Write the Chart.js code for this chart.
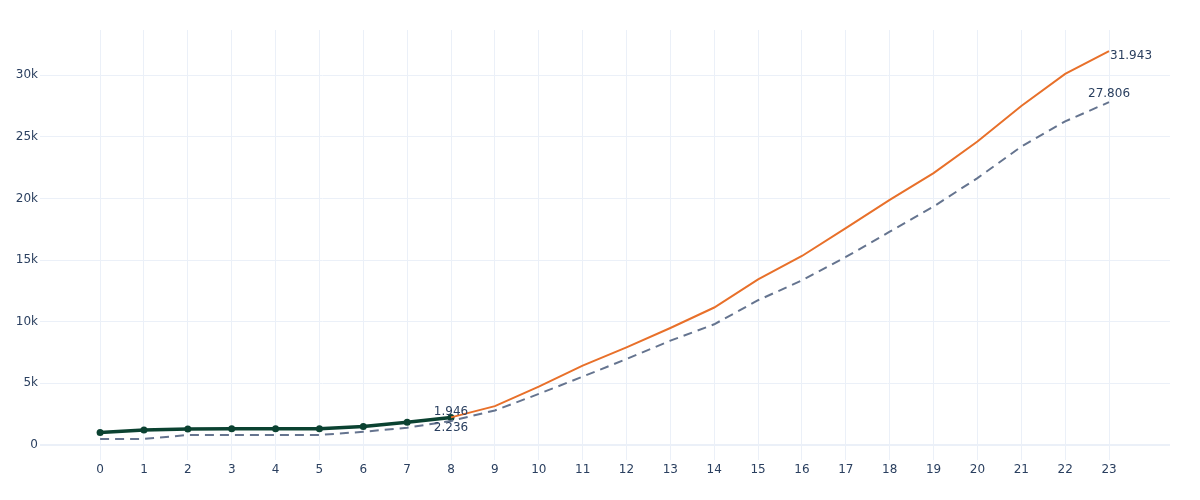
<!DOCTYPE html>
<html>
<head>
<meta charset="utf-8">
<script src="https://cdn.jsdelivr.net/npm/chart.js@4"></script>
<style>
  html, body { margin: 0; padding: 0; background: #fff; }
  #wrap { width: 1200px; height: 500px; }
</style>
</head>
<body>
<div id="wrap"><canvas id="chart"></canvas></div>
<script>
// periods on the x axis
const periods = [0, 1, 2, 3, 4, 5, 6, 7, 8, 9, 10, 11, 12, 13, 14, 15, 16, 17, 18, 19, 20, 21, 22, 23];

// observed values (periods 0..8)
const actual = [1020, 1220, 1300, 1310, 1310, 1320, 1500, 1840, 2236];

// projected values (periods 8..23)
const projected = [2236, 3150, 4730, 6430, 7920, 9490, 11150, 13430, 15330, 17590, 19880, 22050, 24620, 27500, 30100, 31943];

// baseline, dashed (periods 0..23)
const baseline = [490, 490, 810, 810, 810, 810, 1070, 1400, 1946, 2800, 4140, 5540, 6970, 8460, 9790, 11740, 13350, 15250, 17300, 19340, 21650, 24200, 26250, 27806];

const yTicks = [0, 5000, 10000, 15000, 20000, 25000, 30000];

const FONT = '"DejaVu Sans", Verdana, sans-serif';
const TEXT = '#2a3f5f';
const GRID = '#ebf0f8';

const toPoints = (vals, start) => vals.map((v, i) => ({ x: periods[start + i], y: v }));

// text labels next to selected points
const pointLabels = {
    id: 'pointLabels',
    afterDatasetsDraw(chart) {
        const ctx = chart.ctx;
        ctx.save();
        ctx.font = '12px ' + FONT;
        ctx.fillStyle = TEXT;
        ctx.textBaseline = 'middle';
        chart.data.datasets.forEach((ds, di) => {
            (ds.labelAt || []).forEach(l => {
                const el = chart.getDatasetMeta(di).data[l.index];
                const v = ds.data[l.index].y;
                ctx.textAlign = l.align;
                ctx.fillText(v.toLocaleString('de-DE'), el.x + l.dx, el.y + l.dy);
            });
        });
        ctx.restore();
    }
};

new Chart(document.getElementById('chart'), {
    type: 'line',
    data: {
        datasets: [
            {
                label: 'baseline',
                data: toPoints(baseline, 0),
                borderColor: '#65748f',
                borderWidth: 2,
                borderDash: [9, 6],
                pointRadius: 0,
                fill: false,
                labelAt: [
                    { index: 8, align: 'center', dx: 0, dy: -9 },
                    { index: 23, align: 'center', dx: 0, dy: -8 }
                ]
            },
            {
                label: 'projected',
                data: toPoints(projected, 8),
                borderColor: '#e8702a',
                borderWidth: 2,
                pointRadius: 0,
                fill: false,
                labelAt: [
                    { index: 15, align: 'left', dx: 1, dy: 5 }
                ]
            },
            {
                label: 'actual',
                data: toPoints(actual, 0),
                borderColor: '#0b4231',
                backgroundColor: '#0b4231',
                borderWidth: 3.5,
                pointRadius: 3.5,
                pointBorderWidth: 0,
                fill: false,
                labelAt: [
                    { index: 8, align: 'center', dx: 0, dy: 10 }
                ]
            }
        ]
    },
    options: {
        responsive: true,
        maintainAspectRatio: false,
        animation: false,
        layout: { padding: { left: 0, right: 30, top: 30, bottom: 0 } },
        plugins: {
            legend: { display: false },
            tooltip: { enabled: false }
        },
        scales: {
            x: {
                type: 'linear',
                min: -1.37,
                max: 24.39,
                afterBuildTicks: s => { s.ticks = periods.map(p => ({ value: p })); },
                afterFit: s => { s.height = 40; },
                grid: { color: GRID, lineWidth: 1, drawTicks: false },
                border: { display: false },
                ticks: {
                    color: TEXT,
                    font: { family: FONT, size: 12 },
                    padding: 3,
                    maxRotation: 0,
                    autoSkip: false,
                    callback: v => String(v)
                }
            },
            y: {
                type: 'linear',
                min: -1220,
                max: 33660,
                afterBuildTicks: s => { s.ticks = yTicks.map(v => ({ value: v })); },
                afterFit: s => { s.width = 40; },
                grid: {
                    color: GRID,
                    lineWidth: c => (c.tick && c.tick.value === 0 ? 2 : 1),
                    drawTicks: false
                },
                border: { display: false },
                ticks: {
                    color: TEXT,
                    font: { family: FONT, size: 12 },
                    padding: 2,
                    callback: v => (v === 0 ? '0' : (v / 1000) + 'k')
                }
            }
        }
    },
    plugins: [pointLabels]
});
</script>
</body>
</html>
